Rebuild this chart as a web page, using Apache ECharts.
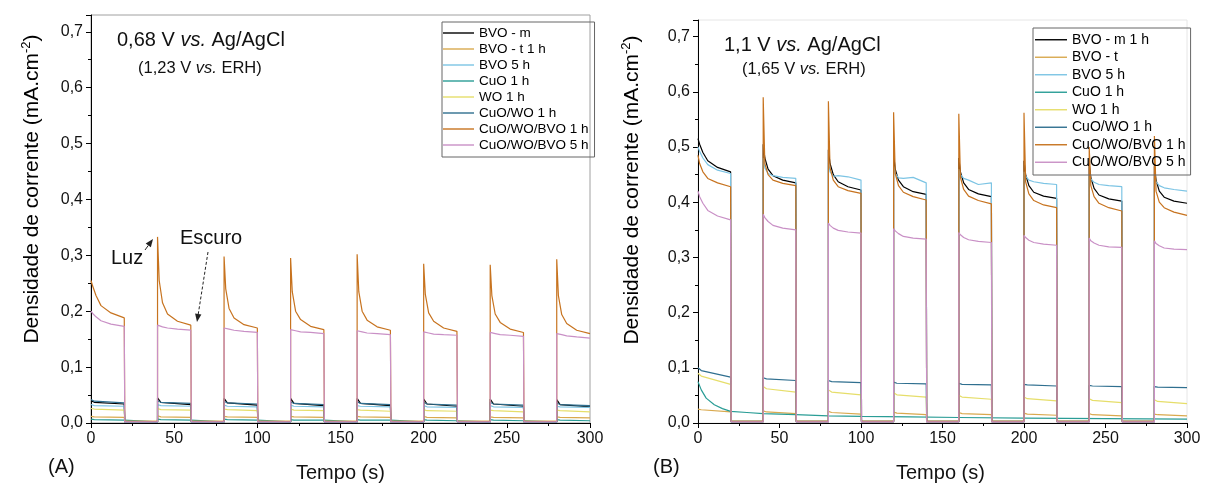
<!DOCTYPE html>
<html>
<head>
<meta charset="utf-8">
<script src="https://cdn.jsdelivr.net/npm/echarts@6/dist/echarts.min.js"></script>
<style>
html, body { margin: 0; padding: 0; background: #fff; }
#chart { width: 1216px; height: 486px; }
</style>
</head>
<body>
<div id="chart"></div>
<script>
// light on at these times, 20 s on / 20 s off
var lightOn = [0, 40, 80, 120, 160, 200, 240, 280];
var offFull = [0, 1, 3, 6, 12, 20];   // s after light on (fast decays)
var offFlat = [0, 2, 20];             // s after light on (small currents)
var xTicks = [0, 50, 100, 150, 200, 250, 300];

// ---- (A) 0,68 V vs. Ag/AgCl ----
var a_cwb1 = [
    [0.255, 0.245, 0.228, 0.21, 0.197, 0.188],
    [0.333, 0.255, 0.215, 0.195, 0.182, 0.175],
    [0.298, 0.24, 0.205, 0.188, 0.176, 0.17],
    [0.295, 0.235, 0.2, 0.185, 0.173, 0.167],
    [0.302, 0.235, 0.2, 0.184, 0.172, 0.166],
    [0.285, 0.23, 0.197, 0.182, 0.17, 0.164],
    [0.283, 0.228, 0.195, 0.18, 0.168, 0.162],
    [0.293, 0.228, 0.194, 0.178, 0.166, 0.16]
];
var a_cwb5 = [
    [0.2, 0.196, 0.19, 0.183, 0.177, 0.173],
    [0.175, 0.174, 0.172, 0.17, 0.168, 0.166],
    [0.17, 0.169, 0.168, 0.166, 0.164, 0.162],
    [0.167, 0.166, 0.165, 0.163, 0.162, 0.16],
    [0.165, 0.164, 0.163, 0.161, 0.16, 0.158],
    [0.163, 0.162, 0.161, 0.159, 0.158, 0.157],
    [0.162, 0.161, 0.16, 0.158, 0.157, 0.155],
    [0.16, 0.159, 0.158, 0.156, 0.154, 0.152]
];
var a_bvom = [[0.04, 0.037, 0.034], [0.045, 0.037, 0.033], [0.044, 0.036, 0.032], [0.044, 0.035, 0.031],
    [0.044, 0.035, 0.031], [0.043, 0.034, 0.03], [0.043, 0.034, 0.03], [0.042, 0.033, 0.029]];
var a_cw1 = [[0.042, 0.039, 0.036], [0.04, 0.037, 0.035], [0.039, 0.036, 0.034], [0.038, 0.035, 0.033],
    [0.038, 0.035, 0.033], [0.037, 0.034, 0.032], [0.037, 0.034, 0.032], [0.036, 0.033, 0.031]];
var a_bvo5 = [[0.033, 0.031, 0.03], [0.033, 0.031, 0.03], [0.032, 0.03, 0.029], [0.032, 0.03, 0.029],
    [0.031, 0.03, 0.029], [0.031, 0.029, 0.028], [0.031, 0.029, 0.028], [0.03, 0.029, 0.028]];
var a_wo1 = [[0.026, 0.025, 0.023], [0.026, 0.024, 0.023], [0.025, 0.024, 0.022], [0.025, 0.023, 0.022],
    [0.024, 0.023, 0.021], [0.024, 0.022, 0.021], [0.023, 0.022, 0.02], [0.023, 0.022, 0.02]];
var a_bvot = [[0.012, 0.011, 0.01], [0.013, 0.011, 0.01], [0.012, 0.011, 0.01], [0.012, 0.011, 0.01],
    [0.012, 0.011, 0.01], [0.012, 0.01, 0.009], [0.011, 0.01, 0.009], [0.011, 0.01, 0.009]];
var a_cuo1 = [[0.007, 0.006, 0.005], [0.007, 0.006, 0.005], [0.007, 0.006, 0.005], [0.006, 0.005, 0.005],
    [0.006, 0.005, 0.005], [0.006, 0.005, 0.004], [0.006, 0.005, 0.004], [0.006, 0.005, 0.004]];

// ---- (B) 1,1 V vs. Ag/AgCl ----
var b_cwb1 = [
    [0.485, 0.47, 0.455, 0.443, 0.435, 0.428],
    [0.59, 0.47, 0.45, 0.44, 0.434, 0.43],
    [0.583, 0.462, 0.44, 0.428, 0.421, 0.416],
    [0.563, 0.452, 0.43, 0.418, 0.41, 0.404],
    [0.56, 0.445, 0.423, 0.411, 0.403, 0.397],
    [0.562, 0.437, 0.415, 0.403, 0.395, 0.39],
    [0.5, 0.43, 0.41, 0.398, 0.39, 0.384],
    [0.52, 0.42, 0.4, 0.39, 0.382, 0.376]
];
var b_cwb5 = [
    [0.42, 0.41, 0.398, 0.385, 0.375, 0.368],
    [0.378, 0.372, 0.365, 0.358, 0.353, 0.35],
    [0.362, 0.358, 0.353, 0.349, 0.346, 0.344],
    [0.352, 0.348, 0.343, 0.338, 0.335, 0.333],
    [0.345, 0.341, 0.336, 0.332, 0.329, 0.327],
    [0.34, 0.336, 0.331, 0.327, 0.324, 0.322],
    [0.335, 0.33, 0.326, 0.322, 0.319, 0.318],
    [0.33, 0.325, 0.321, 0.317, 0.315, 0.314]
];
var b_bvom = [
    [0.515, 0.505, 0.49, 0.475, 0.463, 0.455],
    [0.505, 0.48, 0.46, 0.448, 0.44, 0.435],
    [0.495, 0.47, 0.45, 0.437, 0.428, 0.422],
    [0.487, 0.46, 0.44, 0.428, 0.419, 0.414],
    [0.48, 0.455, 0.435, 0.423, 0.415, 0.41],
    [0.475, 0.45, 0.43, 0.418, 0.411, 0.407],
    [0.47, 0.445, 0.425, 0.413, 0.406, 0.402],
    [0.465, 0.44, 0.42, 0.409, 0.402, 0.398]
];
var b_bvo5 = [
    [0.5, 0.492, 0.48, 0.468, 0.458, 0.452],
    [0.48, 0.462, 0.452, 0.448, 0.445, 0.443],
    [0.472, 0.455, 0.447, 0.448, 0.446, 0.44],
    [0.465, 0.452, 0.444, 0.443, 0.445, 0.435],
    [0.46, 0.45, 0.443, 0.44, 0.432, 0.435],
    [0.455, 0.447, 0.44, 0.437, 0.434, 0.432],
    [0.45, 0.442, 0.436, 0.432, 0.43, 0.428],
    [0.445, 0.437, 0.43, 0.426, 0.423, 0.42]
];
var b_cw1 = [[0.1, 0.095, 0.083], [0.082, 0.08, 0.077], [0.077, 0.075, 0.073], [0.074, 0.072, 0.071],
    [0.072, 0.07, 0.069], [0.07, 0.069, 0.067], [0.068, 0.067, 0.066], [0.066, 0.065, 0.064]];
var b_wo1 = [[0.09, 0.085, 0.07], [0.066, 0.062, 0.056], [0.06, 0.056, 0.051], [0.055, 0.051, 0.047],
    [0.05, 0.047, 0.043], [0.047, 0.044, 0.04], [0.044, 0.041, 0.037], [0.042, 0.039, 0.035]];
var b_bvot = [[0.025, 0.024, 0.02], [0.022, 0.02, 0.017], [0.021, 0.019, 0.016], [0.02, 0.018, 0.015],
    [0.019, 0.017, 0.015], [0.018, 0.016, 0.014], [0.017, 0.015, 0.013], [0.016, 0.015, 0.013]];
// CuO 1 h at 1,1 V: no chopping visible, only a slow decay
var b_cuo1_t = [0, 2, 5, 10, 15, 20, 30, 40, 60, 80, 100, 130, 160, 200, 250, 300];
var b_cuo1_v = [0.075, 0.06, 0.045, 0.033, 0.026, 0.021, 0.019, 0.017, 0.015, 0.013, 0.012, 0.011, 0.01, 0.009, 0.008, 0.007];

var namesA = ['BVO - m', 'BVO - t 1 h', 'BVO 5 h', 'CuO 1 h', 'WO 1 h', 'CuO/WO 1 h', 'CuO/WO/BVO 1 h', 'CuO/WO/BVO 5 h'];
var namesB = ['BVO - m 1 h', 'BVO - t', 'BVO 5 h', 'CuO 1 h', 'WO 1 h', 'CuO/WO 1 h', 'CuO/WO/BVO 1 h', 'CuO/WO/BVO 5 h'];
var colors = ['#000000', '#d9a94e', '#7cc4e4', '#2a9d96', '#e6de6a', '#2f6f8f', '#c7731f', '#c990c6'];

var FONT = '"Liberation Sans", Arial, sans-serif';

function chopped(cycles, offsets, dark) {
    var pts = [];
    cycles.forEach(function (vals, k) {
        var t0 = lightOn[k];
        if (k > 0) pts.push([t0, dark]);
        vals.forEach(function (v, j) { pts.push([t0 + offsets[j], v]); });
        if (k < cycles.length - 1) pts.push([t0 + 20.3, dark]);
    });
    return pts;
}

var dataA = [
    chopped(a_bvom, offFlat, 0.002),
    chopped(a_bvot, offFlat, 0.002),
    chopped(a_bvo5, offFlat, 0.002),
    chopped(a_cuo1, offFlat, 0.002),
    chopped(a_wo1, offFlat, 0.003),
    chopped(a_cw1, offFlat, 0.002),
    chopped(a_cwb1, offFull, 0.003),
    chopped(a_cwb5, offFull, 0.002)
];
var dataB = [
    chopped(b_bvom, offFull, 0.003),
    chopped(b_bvot, offFlat, 0.002),
    chopped(b_bvo5, offFull, 0.003),
    b_cuo1_t.map(function (t, i) { return [t, b_cuo1_v[i]]; }),
    chopped(b_wo1, offFlat, 0.003),
    chopped(b_cw1, offFlat, 0.002),
    chopped(b_cwb1, offFull, 0.003),
    chopped(b_cwb5, offFull, 0.002)
];

var series = [];
[dataA, dataB].forEach(function (d, p) {
    d.forEach(function (pts, i) {
        series.push({
            name: (p === 0 ? namesA : namesB)[i],
            type: 'line',
            xAxisIndex: p,
            yAxisIndex: p,
            data: pts,
            symbol: 'none',
            lineStyle: { color: colors[i], width: 1.2 },
            itemStyle: { color: colors[i] }
        });
    });
});

function xAx(idx) {
    return {
        type: 'value', gridIndex: idx, min: 0, max: 300, interval: 50,
        axisLine: { lineStyle: { color: '#000', width: 1 } },
        axisTick: { length: 5, lineStyle: { color: '#000' } },
        minorTick: { show: true, splitNumber: 2, length: 3, lineStyle: { color: '#000' } },
        axisLabel: { fontSize: 16, color: '#111', fontFamily: FONT, margin: 8 },
        splitLine: { show: false }
    };
}
function yAx(idx) {
    return {
        type: 'value', gridIndex: idx, min: 0, max: 0.73, interval: 0.1,
        axisLine: { show: true, lineStyle: { color: '#000', width: 1 } },
        axisTick: { show: true, length: 5, lineStyle: { color: '#000' } },
        minorTick: { show: true, splitNumber: 2, length: 3, lineStyle: { color: '#000' } },
        axisLabel: {
            fontSize: 16, color: '#111', fontFamily: FONT, margin: 8, showMaxLabel: false,
            formatter: function (v) { return v.toFixed(1).replace('.', ','); }
        },
        splitLine: { show: false }
    };
}

function legendAt(names, left, top, fs, rowH, iw, pad) {
    return {
        data: names, orient: 'vertical', left: left, top: top,
        icon: 'rect', itemWidth: iw, itemHeight: 1.4, itemGap: 2,
        padding: pad, borderColor: '#666', borderWidth: 1, borderRadius: 0,
        textStyle: { fontSize: fs, lineHeight: rowH - 2, color: '#000', fontFamily: FONT }
    };
}

function txt(x, y, parts, size, extra) {
    var rich = {
        a: { fontSize: size, fontFamily: FONT, color: '#111' },
        i: { fontSize: size, fontFamily: FONT, fontStyle: 'italic', color: '#111' }
    };
    var o = {
        type: 'text', x: x, y: y, z: 100,
        style: { text: parts, rich: rich, fill: '#111', font: size + 'px ' + FONT, verticalAlign: 'middle', align: 'left' }
    };
    if (extra) Object.keys(extra).forEach(function (k) { o[k] = extra[k]; });
    return o;
}

function arrow(x1, y1, x2, y2, dashed) {
    var a = Math.atan2(y2 - y1, x2 - x1), L = 8, W = 3.2;
    var bx = x2 - L * Math.cos(a), by = y2 - L * Math.sin(a);
    return [
        { type: 'line', z: 100, shape: { x1: x1, y1: y1, x2: bx, y2: by },
          style: { stroke: '#222', lineWidth: 1, lineDash: dashed ? [3, 2] : null } },
        { type: 'polygon', z: 100,
          shape: { points: [[x2, y2], [bx - W * Math.sin(a), by + W * Math.cos(a)], [bx + W * Math.sin(a), by - W * Math.cos(a)]] },
          style: { fill: '#222' } }
    ];
}

function yTitle(x, y) {
    return {
        type: 'text', x: x, y: y, rotation: Math.PI / 2, z: 100,
        style: {
            text: '{a|Densidade de corrente (mA.cm}{s|-2}{a|)}',
            align: 'center', verticalAlign: 'middle',
            rich: {
                a: { fontSize: 21, fontFamily: FONT, color: '#111', lineHeight: 24 },
                s: { fontSize: 13, fontFamily: FONT, color: '#111', verticalAlign: 'top', lineHeight: 24 }
            }
        }
    };
}

var graphics = [
    txt(117, 40, '{a|0,68 V }{i|vs.}{a| Ag/AgCl}', 20),
    txt(138, 68, '{a|(1,23 V }{i|vs.}{a| ERH)}', 16.5),
    txt(724, 45, '{a|1,1 V }{i|vs.}{a| Ag/AgCl}', 20),
    txt(742, 69, '{a|(1,65 V }{i|vs.}{a| ERH)}', 16.5),
    txt(111, 258, '{a|Luz}', 20),
    txt(180, 238, '{a|Escuro}', 20),
    txt(296, 473, '{a|Tempo (s)}', 20),
    txt(896, 473, '{a|Tempo (s)}', 20),
    txt(48, 467, '{a|(A)}', 20),
    txt(653, 467, '{a|(B)}', 20),
    yTitle(32, 189),
    yTitle(632, 190)
].concat(arrow(145, 250, 153, 239, false)).concat(arrow(208, 252, 197, 322, true));

var chart = echarts.init(document.getElementById('chart'));
chart.setOption({
    animation: false,
    backgroundColor: '#fff',
    grid: [
        { left: 91, top: 15, width: 499, height: 408, show: true, borderColor: '#a0a0a0', borderWidth: 1 },
        { left: 698, top: 20, width: 489, height: 403, show: true, borderColor: '#e6e6e6', borderWidth: 1 }
    ],
    xAxis: [xAx(0), xAx(1)],
    yAxis: [yAx(0), yAx(1)],
    legend: [
        legendAt(namesA, 442, 22, 13.5, 16, 31, [4, 6, 5, 1]),
        legendAt(namesB, 1033, 28, 14, 17.5, 32, [4, 5, 5, 2])
    ],
    graphic: graphics,
    series: series
});
</script>
</body>
</html>
